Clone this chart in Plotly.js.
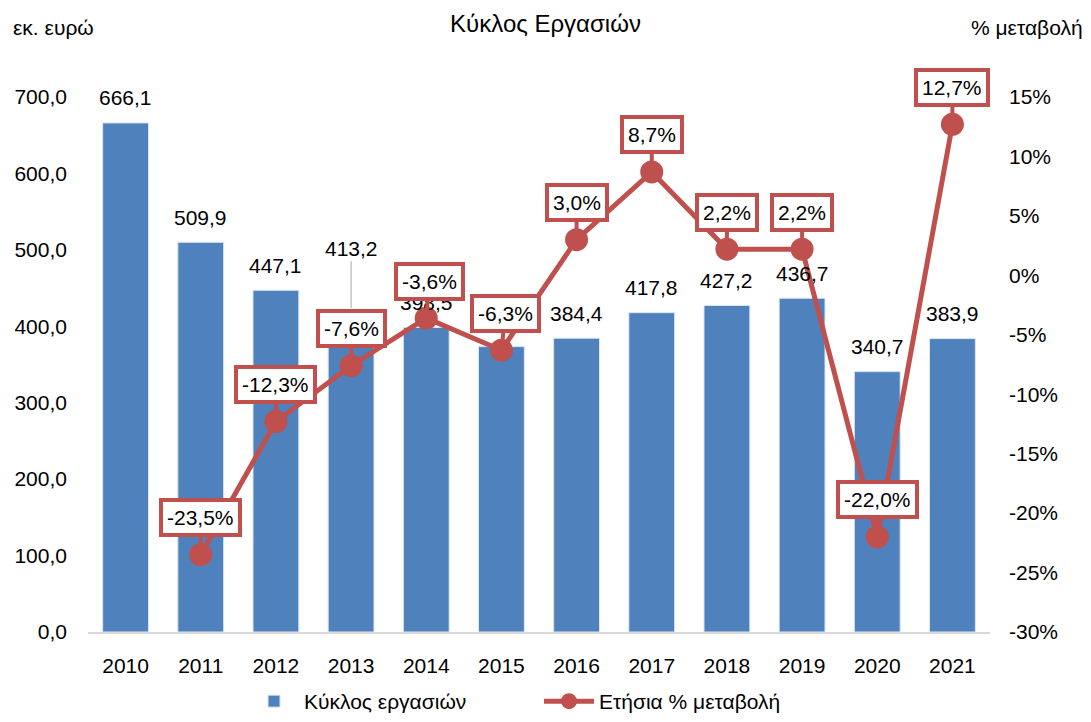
<!DOCTYPE html>
<html>
<head>
<meta charset="utf-8">
<script src="https://cdn.plot.ly/plotly-3.0.1.min.js"></script>
<style>html,body{margin:0;padding:0;background:#fff;}#chart{width:1091px;height:722px;}</style>
</head>
<body>
<div id="chart"></div>
<script>
var years = [2010, 2011, 2012, 2013, 2014, 2015, 2016, 2017, 2018, 2019, 2020, 2021];
var turnover = [666.1, 509.9, 447.1, 413.2, 398.5, 373.4, 384.4, 417.8, 427.2, 436.7, 340.7, 383.9];
var changeYears = [2011, 2012, 2013, 2014, 2015, 2016, 2017, 2018, 2019, 2020, 2021];
var changePct = [-23.5, -12.3, -7.6, -3.6, -6.3, 3.0, 8.7, 2.2, 2.2, -22.0, 12.7];
var leftTicks = [0, 100, 200, 300, 400, 500, 600, 700];
var rightTicks = [-30, -25, -20, -15, -10, -5, 0, 5, 10, 15];

var FONT = 'Liberation Sans, Arial, sans-serif';
var FS = 21;
var BLUE = '#4F81BD';
var RED = '#C0504D';

function fmt1(v){ return v.toFixed(1).replace('.', ','); }

var bars = {
  type: 'bar', x: years, y: turnover, name: 'Κύκλος εργασιών',
  marker: {color: BLUE, line: {color: '#dce6f2', width: 1}},
  hoverinfo: 'skip'
};
var line = {
  type: 'scatter', mode: 'lines+markers', x: changeYears, y: changePct, yaxis: 'y2',
  name: 'Ετήσια % μεταβολή',
  line: {color: RED, width: 5}, marker: {color: RED, size: 23},
  hoverinfo: 'skip', cliponaxis: false
};

var annotations = [];
// bar value labels
years.forEach(function(yr, i){
  if (yr === 2013) {
    annotations.push({
      x: yr, y: turnover[i], xref: 'x', yref: 'y',
      text: fmt1(turnover[i]), showarrow: true, arrowhead: 0, arrowwidth: 1,
      arrowcolor: '#a6a6a6', ax: 0, ay: -68, standoff: 8,
      font: {family: FONT, size: FS, color: '#000'}
    });
  } else {
    annotations.push({
      x: yr, y: turnover[i], xref: 'x', yref: 'y', yanchor: 'middle', yshift: 25,
      text: fmt1(turnover[i]), showarrow: false,
      font: {family: FONT, size: FS, color: '#000'}
    });
  }
});
var axOff = {2015: 4, 2014: 3};
changeYears.forEach(function(yr, i){
  annotations.push({
    x: yr, y: changePct[i], xref: 'x', yref: 'y2',
    text: fmt1(changePct[i]) + '%', showarrow: true, arrowhead: 0,
    arrowwidth: 4, arrowcolor: RED, ax: axOff[yr] || 0, ay: -37,
    bgcolor: '#fff', bordercolor: RED, borderwidth: 4, borderpad: 4,
    font: {family: FONT, size: FS, color: '#000'}
  });
});
annotations.push({xref: 'paper', yref: 'paper', x: -0.085, y: 1.0, yanchor: 'bottom', xanchor: 'left',
  yshift: 56, text: 'εκ. ευρώ', showarrow: false, font: {family: FONT, size: FS, color: '#000'}});
annotations.push({xref: 'paper', yref: 'paper', x: 1.105, y: 1.0, yanchor: 'bottom', xanchor: 'right',
  yshift: 56, text: '% μεταβολή', showarrow: false, font: {family: FONT, size: FS, color: '#000'}});

var layout = {
  width: 1091, height: 722,
  margin: {l: 88, r: 101, t: 97, b: 90},
  paper_bgcolor: '#fff', plot_bgcolor: '#fff',
  separators: ', ',
  font: {family: FONT, size: FS, color: '#000'},
  title: {text: 'Κύκλος Εργασιών', x: 0.5, xanchor: 'center', y: 0.968, yanchor: 'middle',
          font: {family: FONT, size: 24, color: '#000'}},
  bargap: 0.39,
  showlegend: true,
  legend: {orientation: 'h', x: 0.5, xanchor: 'center', yref: 'container', y: -0.01, yanchor: 'bottom',
           font: {family: FONT, size: FS, color: '#000'}, traceorder: 'normal', itemwidth: 50,
           entrywidth: 230},
  xaxis: {range: [2009.5, 2021.5], tickvals: years, ticktext: years.map(String), showgrid: false,
          showline: true, linecolor: '#d9d9d9', linewidth: 2, ticklabelstandoff: 14,
          ticks: '', tickfont: {family: FONT, size: FS}, zeroline: false},
  yaxis: {range: [0, 700], tickvals: leftTicks, ticktext: leftTicks.map(fmt1), showgrid: false,
          zeroline: false, showline: false, ticks: '', ticklabelstandoff: 20,
          tickfont: {family: FONT, size: FS}},
  yaxis2: {overlaying: 'y', side: 'right', range: [-30, 15], tickvals: rightTicks,
           ticktext: rightTicks.map(function(v){ return v + '%'; }), showgrid: false,
           zeroline: false, showline: false, ticks: '', ticklabelstandoff: 18,
           tickfont: {family: FONT, size: FS}},
  annotations: annotations
};

Plotly.newPlot('chart', [bars, line], layout, {displayModeBar: false, staticPlot: true});
</script>
</body>
</html>
